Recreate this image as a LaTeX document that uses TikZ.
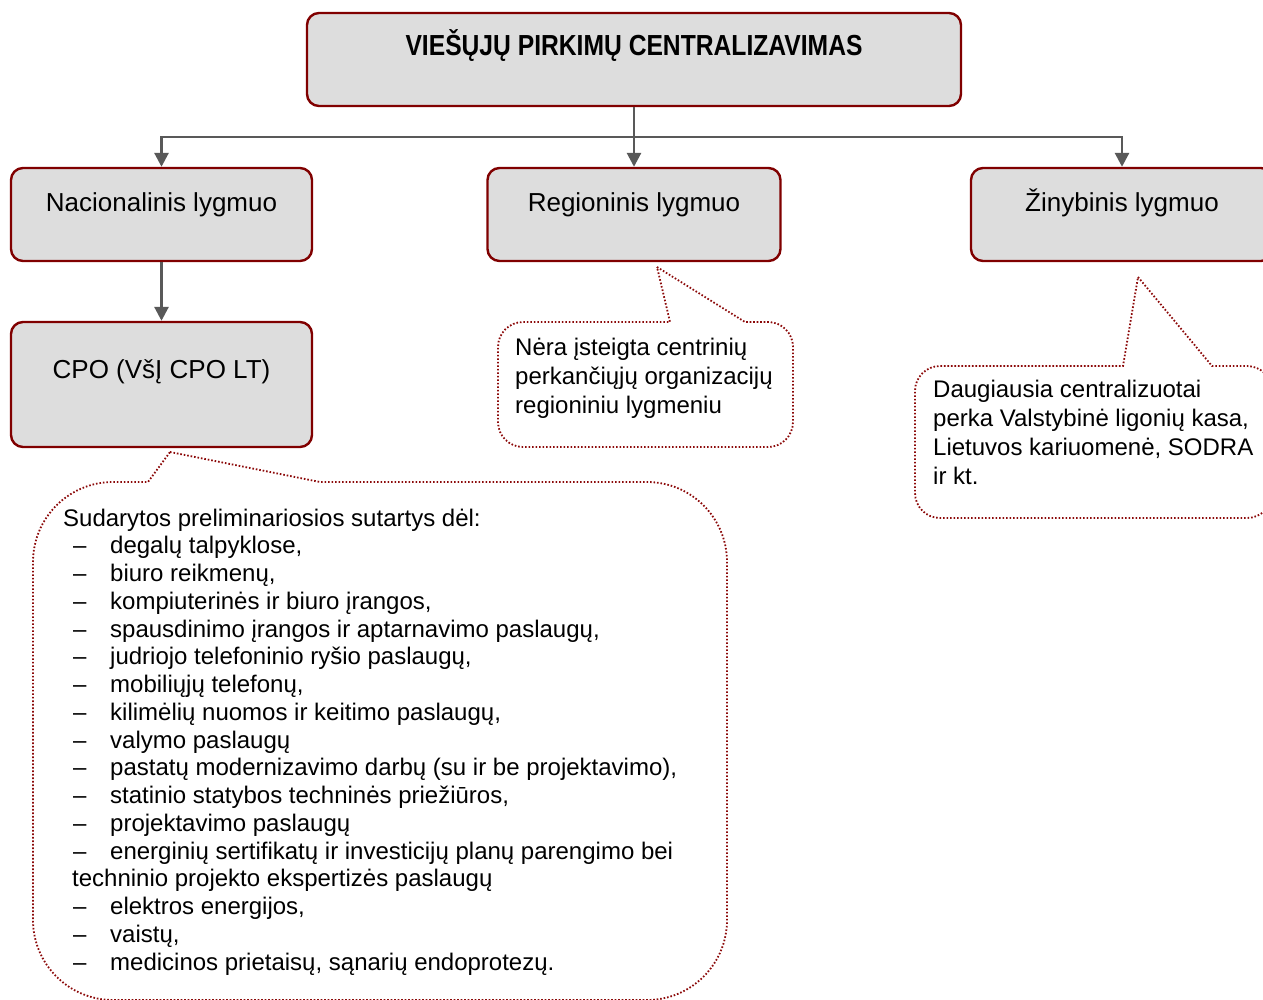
\documentclass[tikz,border=0pt]{standalone}
\usepackage{fontspec}
\setmainfont{Liberation Sans}
\newfontfamily\narrowfont[FakeStretch=0.85]{Liberation Sans}
\usetikzlibrary{arrows.meta, positioning}
\definecolor{boxred}{RGB}{128,0,0}
\definecolor{boxgray}{RGB}{221,221,221}
\definecolor{linkgray}{RGB}{89,89,89}
\definecolor{notered}{RGB}{140,10,10}
\newcommand{\punktas}{\hspace*{10pt}\makebox[37pt][l]{–}}

\begin{document}
\begin{tikzpicture}[x=1pt, y=-1pt,
  lvlbox/.style={draw=boxred, fill=boxgray, line width=2.4pt, rounded corners=12pt, minimum height=93pt, inner sep=0pt, font=\fontsize{26}{30}\selectfont, text height=19pt, text depth=26pt},
  link/.style={draw=linkgray, line width=2.8pt, -{Triangle[length=14pt, width=14pt]}},
  note/.style={draw=notered, line width=1.8pt, dash pattern=on 1.6pt off 1.9pt},
  notetext/.style={anchor=north west, align=left, inner sep=0pt, font=\fontsize{24}{29}\selectfont}]
\path[use as bounding box, clip] (0,0) rectangle (1263,999);

% Title
\node[lvlbox, minimum width=654pt, font=\narrowfont\bfseries\fontsize{29}{33}\selectfont, text height=21pt, text depth=30pt] (title) at (634,59.5) {VIEŠŲJŲ PIRKIMŲ CENTRALIZAVIMAS};

% Levels
\node[lvlbox, minimum width=301pt] (national) at (161.5,214.5) {Nacionalinis lygmuo};
\node[lvlbox, minimum width=293pt] (regional) at (634,214.5) {Regioninis lygmuo};
\node[lvlbox, minimum width=302pt] (agency) at (1122,214.5) {Žinybinis lygmuo};
\node[lvlbox, minimum width=301pt, minimum height=125pt, text depth=32pt] (cpo) at (161.5,384.5) {CPO (VšĮ CPO LT)};

% Arrows
\coordinate (bus) at (634,137);
\draw[link] (title) -- (regional);
\draw[link, -] (title) -- (bus);
\draw[link] (bus) -| (national.north);
\draw[link] (bus) -| (agency.north);
\draw[link] (national) -- (cpo);

% Callouts
\draw[note] (657,267) -- (745,322) [rounded corners=25pt] -- (793,322) -- (793,447) -- (498,447) -- (498,322) [sharp corners] -- (670,322) -- cycle;
\node[notetext] (regnote) at (515,337.5) {Nėra įsteigta centrinių\\perkančiųjų organizacijų\\regioniniu lygmeniu};

\draw[note] (1138,277) -- (1212,366) [rounded corners=25pt] -- (1272,366) -- (1272,518) -- (915,518) -- (915,366) [sharp corners] -- (1123,366) -- cycle;
\node[notetext] (agencynote) at (933,379.5) {Daugiausia centralizuotai\\perka Valstybinė ligonių kasa,\\Lietuvos kariuomenė, SODRA\\ir kt.};

\draw[note] (170,452) -- (320,482) [rounded corners=80pt] -- (727,482) -- (727,1000) -- (33,1000) -- (33,482) [sharp corners] -- (148,482) -- cycle;
\node[notetext, font=\fontsize{24}{27.75}\selectfont] (cponote) at (63,508.5) {Sudarytos preliminariosios sutartys dėl:\\
\punktas degalų talpyklose,\\
\punktas biuro reikmenų,\\
\punktas kompiuterinės ir biuro įrangos,\\
\punktas spausdinimo įrangos ir aptarnavimo paslaugų,\\
\punktas judriojo telefoninio ryšio paslaugų,\\
\punktas mobiliųjų telefonų,\\
\punktas kilimėlių nuomos ir keitimo paslaugų,\\
\punktas valymo paslaugų\\
\punktas pastatų modernizavimo darbų (su ir be projektavimo),\\
\punktas statinio statybos techninės priežiūros,\\
\punktas projektavimo paslaugų\\
\punktas energinių sertifikatų ir investicijų planų parengimo bei\\
\hspace*{9pt}techninio projekto ekspertizės paslaugų\\
\punktas elektros energijos,\\
\punktas vaistų,\\
\punktas medicinos prietaisų, sąnarių endoprotezų.};
\end{tikzpicture}
\end{document}
